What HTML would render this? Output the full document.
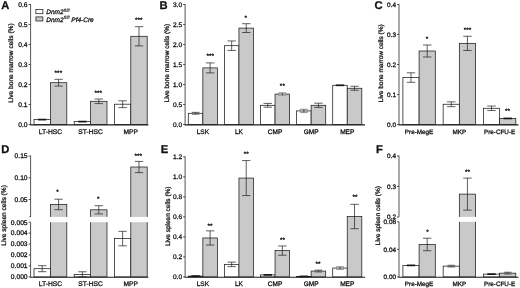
<!DOCTYPE html>
<html><head><meta charset="utf-8"><title>Figure</title>
<style>
html,body{margin:0;padding:0;background:#fff;}
body{width:520px;height:288px;overflow:hidden;}
svg{display:block;}
svg text{font-family:"Liberation Sans",Arial,Helvetica,sans-serif;fill:#111;stroke:#111;stroke-width:0.28px;text-rendering:geometricPrecision;}
</style></head><body>
<svg width="520" height="288" viewBox="0 0 520 288">
<rect width="520" height="288" fill="#fff"/>
<rect x="34.00" y="119.60" width="16.40" height="4.90" fill="#fff" stroke="#1c1c1c" stroke-width="0.75"/>
<rect x="50.40" y="82.70" width="16.40" height="41.80" fill="#c9c9c9" stroke="#1c1c1c" stroke-width="0.75"/>
<line x1="38.00" y1="119.60" x2="46.40" y2="119.60" stroke="#151515" stroke-width="1.7"/>
<line x1="58.60" y1="79.30" x2="58.60" y2="86.10" stroke="#1c1c1c" stroke-width="0.7"/>
<line x1="54.40" y1="79.30" x2="62.80" y2="79.30" stroke="#1c1c1c" stroke-width="0.7"/>
<line x1="54.40" y1="86.10" x2="62.80" y2="86.10" stroke="#1c1c1c" stroke-width="0.7"/>
<rect x="74.20" y="121.60" width="16.40" height="2.90" fill="#fff" stroke="#1c1c1c" stroke-width="0.75"/>
<rect x="90.60" y="101.30" width="16.40" height="23.20" fill="#c9c9c9" stroke="#1c1c1c" stroke-width="0.75"/>
<line x1="78.20" y1="121.60" x2="86.60" y2="121.60" stroke="#151515" stroke-width="1.7"/>
<line x1="98.80" y1="99.00" x2="98.80" y2="103.60" stroke="#1c1c1c" stroke-width="0.7"/>
<line x1="94.60" y1="99.00" x2="103.00" y2="99.00" stroke="#1c1c1c" stroke-width="0.7"/>
<line x1="94.60" y1="103.60" x2="103.00" y2="103.60" stroke="#1c1c1c" stroke-width="0.7"/>
<rect x="114.40" y="104.20" width="16.40" height="20.30" fill="#fff" stroke="#1c1c1c" stroke-width="0.75"/>
<rect x="130.80" y="36.30" width="16.40" height="88.20" fill="#c9c9c9" stroke="#1c1c1c" stroke-width="0.75"/>
<line x1="122.60" y1="100.80" x2="122.60" y2="107.60" stroke="#1c1c1c" stroke-width="0.7"/>
<line x1="118.40" y1="100.80" x2="126.80" y2="100.80" stroke="#1c1c1c" stroke-width="0.7"/>
<line x1="118.40" y1="107.60" x2="126.80" y2="107.60" stroke="#1c1c1c" stroke-width="0.7"/>
<line x1="139.00" y1="26.70" x2="139.00" y2="45.90" stroke="#1c1c1c" stroke-width="0.7"/>
<line x1="134.80" y1="26.70" x2="143.20" y2="26.70" stroke="#1c1c1c" stroke-width="0.7"/>
<line x1="134.80" y1="45.90" x2="143.20" y2="45.90" stroke="#1c1c1c" stroke-width="0.7"/>
<line x1="30.60" y1="4.12" x2="30.60" y2="124.88" stroke="#1c1c1c" stroke-width="0.75"/>
<line x1="28.60" y1="124.50" x2="30.60" y2="124.50" stroke="#1c1c1c" stroke-width="0.75"/>
<text x="27.60" y="126.85" font-size="6.7" text-anchor="end" >0.0</text>
<line x1="28.60" y1="104.50" x2="30.60" y2="104.50" stroke="#1c1c1c" stroke-width="0.75"/>
<text x="27.60" y="106.85" font-size="6.7" text-anchor="end" >0.1</text>
<line x1="28.60" y1="84.50" x2="30.60" y2="84.50" stroke="#1c1c1c" stroke-width="0.75"/>
<text x="27.60" y="86.85" font-size="6.7" text-anchor="end" >0.2</text>
<line x1="28.60" y1="64.50" x2="30.60" y2="64.50" stroke="#1c1c1c" stroke-width="0.75"/>
<text x="27.60" y="66.85" font-size="6.7" text-anchor="end" >0.3</text>
<line x1="28.60" y1="44.50" x2="30.60" y2="44.50" stroke="#1c1c1c" stroke-width="0.75"/>
<text x="27.60" y="46.85" font-size="6.7" text-anchor="end" >0.4</text>
<line x1="28.60" y1="24.50" x2="30.60" y2="24.50" stroke="#1c1c1c" stroke-width="0.75"/>
<text x="27.60" y="26.85" font-size="6.7" text-anchor="end" >0.5</text>
<line x1="28.60" y1="4.50" x2="30.60" y2="4.50" stroke="#1c1c1c" stroke-width="0.75"/>
<text x="27.60" y="6.85" font-size="6.7" text-anchor="end" >0.6</text>
<line x1="30.23" y1="124.90" x2="148.40" y2="124.90" stroke="#1c1c1c" stroke-width="1.1"/>
<text x="50.40" y="134.30" font-size="6.7" text-anchor="middle" >LT-HSC</text>
<text x="90.60" y="134.30" font-size="6.7" text-anchor="middle" >ST-HSC</text>
<text x="130.80" y="134.30" font-size="6.7" text-anchor="middle" >MPP</text>
<text transform="translate(13.20,63.10) rotate(-90)" font-size="6.6" text-anchor="middle">Live bone marrow cells (%)</text>
<text x="1.20" y="9.10" font-size="11.2" text-anchor="start" font-weight="bold">A</text>
<text x="58.40" y="75.00" font-size="6.5" text-anchor="middle" stroke-width="0.3">***</text>
<text x="98.30" y="94.50" font-size="6.5" text-anchor="middle" stroke-width="0.3">***</text>
<text x="138.80" y="22.20" font-size="6.5" text-anchor="middle" stroke-width="0.3">***</text>
<rect x="35.9" y="9.6" width="7.0" height="4.1" fill="#fff" stroke="#1c1c1c" stroke-width="0.75"/>
<rect x="35.9" y="16.9" width="7.0" height="4.1" fill="#c9c9c9" stroke="#1c1c1c" stroke-width="0.75"/>
<text x="46.3" y="14.4" font-size="6.5" font-style="italic">Dnm2<tspan font-size="4.6" stroke-width="0.12" dy="-2.4">fl/fl</tspan></text>
<text x="46.3" y="21.7" font-size="6.5" font-style="italic">Dnm2<tspan font-size="4.6" stroke-width="0.12" dy="-2.4">fl/fl</tspan><tspan dy="2.4"> Pf4-Cre</tspan></text>
<rect x="188.30" y="113.30" width="14.55" height="11.20" fill="#fff" stroke="#1c1c1c" stroke-width="0.75"/>
<rect x="202.85" y="67.90" width="14.55" height="56.60" fill="#c9c9c9" stroke="#1c1c1c" stroke-width="0.75"/>
<rect x="191.98" y="111.85" width="7.2" height="2.90" fill="#6e6e6e"/>
<line x1="195.58" y1="112.30" x2="195.58" y2="114.30" stroke="#444" stroke-width="0.9"/>
<line x1="191.98" y1="112.10" x2="191.98" y2="114.50" stroke="#777" stroke-width="0.5"/>
<line x1="199.18" y1="112.10" x2="199.18" y2="114.50" stroke="#777" stroke-width="0.5"/>
<line x1="210.12" y1="62.90" x2="210.12" y2="72.90" stroke="#1c1c1c" stroke-width="0.7"/>
<line x1="205.93" y1="62.90" x2="214.32" y2="62.90" stroke="#1c1c1c" stroke-width="0.7"/>
<line x1="205.93" y1="72.90" x2="214.32" y2="72.90" stroke="#1c1c1c" stroke-width="0.7"/>
<rect x="224.40" y="45.70" width="14.55" height="78.80" fill="#fff" stroke="#1c1c1c" stroke-width="0.75"/>
<rect x="238.95" y="28.10" width="14.55" height="96.40" fill="#c9c9c9" stroke="#1c1c1c" stroke-width="0.75"/>
<line x1="231.68" y1="40.95" x2="231.68" y2="50.45" stroke="#1c1c1c" stroke-width="0.7"/>
<line x1="227.48" y1="40.95" x2="235.88" y2="40.95" stroke="#1c1c1c" stroke-width="0.7"/>
<line x1="227.48" y1="50.45" x2="235.88" y2="50.45" stroke="#1c1c1c" stroke-width="0.7"/>
<line x1="246.23" y1="23.70" x2="246.23" y2="32.50" stroke="#1c1c1c" stroke-width="0.7"/>
<line x1="242.03" y1="23.70" x2="250.43" y2="23.70" stroke="#1c1c1c" stroke-width="0.7"/>
<line x1="242.03" y1="32.50" x2="250.43" y2="32.50" stroke="#1c1c1c" stroke-width="0.7"/>
<rect x="260.50" y="105.30" width="14.55" height="19.20" fill="#fff" stroke="#1c1c1c" stroke-width="0.75"/>
<rect x="275.05" y="94.10" width="14.55" height="30.40" fill="#c9c9c9" stroke="#1c1c1c" stroke-width="0.75"/>
<line x1="267.77" y1="103.40" x2="267.77" y2="107.20" stroke="#1c1c1c" stroke-width="0.7"/>
<line x1="263.57" y1="103.40" x2="271.97" y2="103.40" stroke="#1c1c1c" stroke-width="0.7"/>
<line x1="263.57" y1="107.20" x2="271.97" y2="107.20" stroke="#1c1c1c" stroke-width="0.7"/>
<rect x="278.73" y="92.25" width="7.2" height="3.70" fill="#a4a4a4"/>
<line x1="282.33" y1="92.70" x2="282.33" y2="95.50" stroke="#444" stroke-width="0.9"/>
<line x1="278.73" y1="92.50" x2="278.73" y2="95.70" stroke="#777" stroke-width="0.5"/>
<line x1="285.93" y1="92.50" x2="285.93" y2="95.70" stroke="#777" stroke-width="0.5"/>
<rect x="296.60" y="110.90" width="14.55" height="13.60" fill="#fff" stroke="#1c1c1c" stroke-width="0.75"/>
<rect x="311.15" y="105.30" width="14.55" height="19.20" fill="#c9c9c9" stroke="#1c1c1c" stroke-width="0.75"/>
<rect x="300.27" y="108.70" width="7.2" height="4.40" fill="#a4a4a4"/>
<line x1="303.88" y1="109.15" x2="303.88" y2="112.65" stroke="#444" stroke-width="0.9"/>
<line x1="300.27" y1="108.95" x2="300.27" y2="112.85" stroke="#777" stroke-width="0.5"/>
<line x1="307.48" y1="108.95" x2="307.48" y2="112.85" stroke="#777" stroke-width="0.5"/>
<line x1="318.43" y1="103.20" x2="318.43" y2="107.40" stroke="#1c1c1c" stroke-width="0.7"/>
<line x1="314.23" y1="103.20" x2="322.63" y2="103.20" stroke="#1c1c1c" stroke-width="0.7"/>
<line x1="314.23" y1="107.40" x2="322.63" y2="107.40" stroke="#1c1c1c" stroke-width="0.7"/>
<rect x="332.70" y="85.30" width="14.55" height="39.20" fill="#fff" stroke="#1c1c1c" stroke-width="0.75"/>
<rect x="347.25" y="88.26" width="14.55" height="36.24" fill="#c9c9c9" stroke="#1c1c1c" stroke-width="0.75"/>
<line x1="335.78" y1="85.30" x2="344.18" y2="85.30" stroke="#151515" stroke-width="1.7"/>
<line x1="354.53" y1="86.26" x2="354.53" y2="90.26" stroke="#1c1c1c" stroke-width="0.7"/>
<line x1="350.33" y1="86.26" x2="358.73" y2="86.26" stroke="#1c1c1c" stroke-width="0.7"/>
<line x1="350.33" y1="90.26" x2="358.73" y2="90.26" stroke="#1c1c1c" stroke-width="0.7"/>
<line x1="185.10" y1="4.12" x2="185.10" y2="124.88" stroke="#1c1c1c" stroke-width="0.75"/>
<line x1="183.10" y1="124.50" x2="185.10" y2="124.50" stroke="#1c1c1c" stroke-width="0.75"/>
<text x="182.10" y="126.85" font-size="6.6" text-anchor="end" >0.0</text>
<line x1="183.10" y1="104.50" x2="185.10" y2="104.50" stroke="#1c1c1c" stroke-width="0.75"/>
<text x="182.10" y="106.85" font-size="6.6" text-anchor="end" >0.5</text>
<line x1="183.10" y1="84.50" x2="185.10" y2="84.50" stroke="#1c1c1c" stroke-width="0.75"/>
<text x="182.10" y="86.85" font-size="6.6" text-anchor="end" >1.0</text>
<line x1="183.10" y1="64.50" x2="185.10" y2="64.50" stroke="#1c1c1c" stroke-width="0.75"/>
<text x="182.10" y="66.85" font-size="6.6" text-anchor="end" >1.5</text>
<line x1="183.10" y1="44.50" x2="185.10" y2="44.50" stroke="#1c1c1c" stroke-width="0.75"/>
<text x="182.10" y="46.85" font-size="6.6" text-anchor="end" >2.0</text>
<line x1="183.10" y1="24.50" x2="185.10" y2="24.50" stroke="#1c1c1c" stroke-width="0.75"/>
<text x="182.10" y="26.85" font-size="6.6" text-anchor="end" >2.5</text>
<line x1="183.10" y1="4.50" x2="185.10" y2="4.50" stroke="#1c1c1c" stroke-width="0.75"/>
<text x="182.10" y="6.85" font-size="6.6" text-anchor="end" >3.0</text>
<line x1="184.72" y1="124.90" x2="365.00" y2="124.90" stroke="#1c1c1c" stroke-width="1.1"/>
<text x="202.85" y="134.30" font-size="6.55" text-anchor="middle" >LSK</text>
<text x="238.95" y="134.30" font-size="6.55" text-anchor="middle" >LK</text>
<text x="275.05" y="134.30" font-size="6.55" text-anchor="middle" >CMP</text>
<text x="311.15" y="134.30" font-size="6.55" text-anchor="middle" >GMP</text>
<text x="347.25" y="134.30" font-size="6.55" text-anchor="middle" >MEP</text>
<text transform="translate(169.30,63.10) rotate(-90)" font-size="6.5" text-anchor="middle">Live bone marrow cells (%)</text>
<text x="159.60" y="9.10" font-size="11.2" text-anchor="start" font-weight="bold">B</text>
<text x="210.30" y="58.00" font-size="6.5" text-anchor="middle" stroke-width="0.3">***</text>
<text x="245.80" y="19.70" font-size="6.5" text-anchor="middle" stroke-width="0.3">*</text>
<text x="282.40" y="87.50" font-size="6.5" text-anchor="middle" stroke-width="0.3">**</text>
<rect x="402.90" y="77.55" width="16.20" height="46.95" fill="#fff" stroke="#1c1c1c" stroke-width="0.75"/>
<rect x="419.10" y="51.00" width="16.20" height="73.50" fill="#c9c9c9" stroke="#1c1c1c" stroke-width="0.75"/>
<line x1="411.00" y1="72.80" x2="411.00" y2="82.30" stroke="#1c1c1c" stroke-width="0.7"/>
<line x1="406.80" y1="72.80" x2="415.20" y2="72.80" stroke="#1c1c1c" stroke-width="0.7"/>
<line x1="406.80" y1="82.30" x2="415.20" y2="82.30" stroke="#1c1c1c" stroke-width="0.7"/>
<line x1="427.20" y1="45.00" x2="427.20" y2="57.00" stroke="#1c1c1c" stroke-width="0.7"/>
<line x1="423.00" y1="45.00" x2="431.40" y2="45.00" stroke="#1c1c1c" stroke-width="0.7"/>
<line x1="423.00" y1="57.00" x2="431.40" y2="57.00" stroke="#1c1c1c" stroke-width="0.7"/>
<rect x="443.15" y="104.25" width="16.20" height="20.25" fill="#fff" stroke="#1c1c1c" stroke-width="0.75"/>
<rect x="459.35" y="43.35" width="16.20" height="81.15" fill="#c9c9c9" stroke="#1c1c1c" stroke-width="0.75"/>
<line x1="451.25" y1="101.85" x2="451.25" y2="106.65" stroke="#1c1c1c" stroke-width="0.7"/>
<line x1="447.05" y1="101.85" x2="455.45" y2="101.85" stroke="#1c1c1c" stroke-width="0.7"/>
<line x1="447.05" y1="106.65" x2="455.45" y2="106.65" stroke="#1c1c1c" stroke-width="0.7"/>
<line x1="467.45" y1="36.25" x2="467.45" y2="50.45" stroke="#1c1c1c" stroke-width="0.7"/>
<line x1="463.25" y1="36.25" x2="471.65" y2="36.25" stroke="#1c1c1c" stroke-width="0.7"/>
<line x1="463.25" y1="50.45" x2="471.65" y2="50.45" stroke="#1c1c1c" stroke-width="0.7"/>
<rect x="483.40" y="108.30" width="16.20" height="16.20" fill="#fff" stroke="#1c1c1c" stroke-width="0.75"/>
<rect x="499.60" y="118.44" width="16.20" height="6.06" fill="#c9c9c9" stroke="#1c1c1c" stroke-width="0.75"/>
<line x1="491.50" y1="106.05" x2="491.50" y2="110.55" stroke="#1c1c1c" stroke-width="0.7"/>
<line x1="487.30" y1="106.05" x2="495.70" y2="106.05" stroke="#1c1c1c" stroke-width="0.7"/>
<line x1="487.30" y1="110.55" x2="495.70" y2="110.55" stroke="#1c1c1c" stroke-width="0.7"/>
<line x1="503.50" y1="118.44" x2="511.90" y2="118.44" stroke="#151515" stroke-width="1.7"/>
<line x1="399.00" y1="4.12" x2="399.00" y2="124.88" stroke="#1c1c1c" stroke-width="0.75"/>
<line x1="397.00" y1="124.50" x2="399.00" y2="124.50" stroke="#1c1c1c" stroke-width="0.75"/>
<text x="396.00" y="126.85" font-size="6.4" text-anchor="end" >0.0</text>
<line x1="397.00" y1="94.50" x2="399.00" y2="94.50" stroke="#1c1c1c" stroke-width="0.75"/>
<text x="396.00" y="96.85" font-size="6.4" text-anchor="end" >0.1</text>
<line x1="397.00" y1="64.50" x2="399.00" y2="64.50" stroke="#1c1c1c" stroke-width="0.75"/>
<text x="396.00" y="66.85" font-size="6.4" text-anchor="end" >0.2</text>
<line x1="397.00" y1="34.50" x2="399.00" y2="34.50" stroke="#1c1c1c" stroke-width="0.75"/>
<text x="396.00" y="36.85" font-size="6.4" text-anchor="end" >0.3</text>
<line x1="397.00" y1="4.50" x2="399.00" y2="4.50" stroke="#1c1c1c" stroke-width="0.75"/>
<text x="396.00" y="6.85" font-size="6.4" text-anchor="end" >0.4</text>
<line x1="398.62" y1="124.90" x2="518.50" y2="124.90" stroke="#1c1c1c" stroke-width="1.1"/>
<text x="419.10" y="134.30" font-size="6.33" text-anchor="middle" >Pre-MegE</text>
<text x="459.35" y="134.30" font-size="6.33" text-anchor="middle" >MKP</text>
<text x="499.60" y="134.30" font-size="6.33" text-anchor="middle" >Pre-CFU-E</text>
<text transform="translate(383.20,63.45) rotate(-90)" font-size="6.48" text-anchor="middle">Live bone marrow cells (%)</text>
<text x="374.50" y="9.10" font-size="11.2" text-anchor="start" font-weight="bold">C</text>
<text x="427.00" y="40.50" font-size="6.5" text-anchor="middle" stroke-width="0.3">*</text>
<text x="467.50" y="31.50" font-size="6.5" text-anchor="middle" stroke-width="0.3">***</text>
<text x="507.50" y="113.00" font-size="6.5" text-anchor="middle" stroke-width="0.3">**</text>
<rect x="34.00" y="268.69" width="16.40" height="8.21" fill="#fff" stroke="#1c1c1c" stroke-width="0.75"/>
<rect x="50.40" y="204.46" width="16.40" height="72.44" fill="#c9c9c9" stroke="#1c1c1c" stroke-width="0.75"/>
<rect x="49.40" y="216.90" width="18.40" height="5.30" fill="#fff"/>
<line x1="42.20" y1="265.69" x2="42.20" y2="271.69" stroke="#1c1c1c" stroke-width="0.7"/>
<line x1="38.00" y1="265.69" x2="46.40" y2="265.69" stroke="#1c1c1c" stroke-width="0.7"/>
<line x1="38.00" y1="271.69" x2="46.40" y2="271.69" stroke="#1c1c1c" stroke-width="0.7"/>
<line x1="58.60" y1="199.21" x2="58.60" y2="209.71" stroke="#1c1c1c" stroke-width="0.7"/>
<line x1="54.40" y1="199.21" x2="62.80" y2="199.21" stroke="#1c1c1c" stroke-width="0.7"/>
<line x1="54.40" y1="209.71" x2="62.80" y2="209.71" stroke="#1c1c1c" stroke-width="0.7"/>
<rect x="74.20" y="274.38" width="16.40" height="2.52" fill="#fff" stroke="#1c1c1c" stroke-width="0.75"/>
<rect x="90.60" y="209.81" width="16.40" height="67.09" fill="#c9c9c9" stroke="#1c1c1c" stroke-width="0.75"/>
<rect x="89.60" y="216.90" width="18.40" height="5.30" fill="#fff"/>
<line x1="82.40" y1="271.78" x2="82.40" y2="276.90" stroke="#1c1c1c" stroke-width="0.7"/>
<line x1="78.20" y1="271.78" x2="86.60" y2="271.78" stroke="#1c1c1c" stroke-width="0.7"/>
<line x1="78.20" y1="276.90" x2="86.60" y2="276.90" stroke="#1c1c1c" stroke-width="0.7"/>
<line x1="98.80" y1="205.71" x2="98.80" y2="213.91" stroke="#1c1c1c" stroke-width="0.7"/>
<line x1="94.60" y1="205.71" x2="103.00" y2="205.71" stroke="#1c1c1c" stroke-width="0.7"/>
<line x1="94.60" y1="213.91" x2="103.00" y2="213.91" stroke="#1c1c1c" stroke-width="0.7"/>
<rect x="114.40" y="238.57" width="16.40" height="38.32" fill="#fff" stroke="#1c1c1c" stroke-width="0.75"/>
<rect x="130.80" y="167.01" width="16.40" height="109.89" fill="#c9c9c9" stroke="#1c1c1c" stroke-width="0.75"/>
<rect x="129.80" y="216.90" width="18.40" height="5.30" fill="#fff"/>
<line x1="122.60" y1="231.32" x2="122.60" y2="245.82" stroke="#1c1c1c" stroke-width="0.7"/>
<line x1="118.40" y1="231.32" x2="126.80" y2="231.32" stroke="#1c1c1c" stroke-width="0.7"/>
<line x1="118.40" y1="245.82" x2="126.80" y2="245.82" stroke="#1c1c1c" stroke-width="0.7"/>
<line x1="139.00" y1="161.41" x2="139.00" y2="172.61" stroke="#1c1c1c" stroke-width="0.7"/>
<line x1="134.80" y1="161.41" x2="143.20" y2="161.41" stroke="#1c1c1c" stroke-width="0.7"/>
<line x1="134.80" y1="172.61" x2="143.20" y2="172.61" stroke="#1c1c1c" stroke-width="0.7"/>
<line x1="30.60" y1="155.62" x2="30.60" y2="216.90" stroke="#1c1c1c" stroke-width="0.75"/>
<line x1="30.60" y1="222.20" x2="30.60" y2="277.27" stroke="#1c1c1c" stroke-width="0.75"/>
<line x1="28.60" y1="156.00" x2="30.60" y2="156.00" stroke="#1c1c1c" stroke-width="0.75"/>
<text x="27.60" y="158.35" font-size="6.7" text-anchor="end" >0.15</text>
<line x1="28.60" y1="177.75" x2="30.60" y2="177.75" stroke="#1c1c1c" stroke-width="0.75"/>
<text x="27.60" y="180.10" font-size="6.7" text-anchor="end" >0.10</text>
<line x1="28.60" y1="199.50" x2="30.60" y2="199.50" stroke="#1c1c1c" stroke-width="0.75"/>
<text x="27.60" y="201.85" font-size="6.7" text-anchor="end" >0.05</text>
<line x1="29.40" y1="216.70" x2="30.60" y2="216.70" stroke="#1c1c1c" stroke-width="0.75"/>
<line x1="28.60" y1="276.90" x2="30.60" y2="276.90" stroke="#1c1c1c" stroke-width="0.75"/>
<text x="27.60" y="279.25" font-size="6.7" text-anchor="end" >0.000</text>
<line x1="28.60" y1="265.95" x2="30.60" y2="265.95" stroke="#1c1c1c" stroke-width="0.75"/>
<text x="27.60" y="268.30" font-size="6.7" text-anchor="end" >0.001</text>
<line x1="28.60" y1="255.00" x2="30.60" y2="255.00" stroke="#1c1c1c" stroke-width="0.75"/>
<text x="27.60" y="257.35" font-size="6.7" text-anchor="end" >0.002</text>
<line x1="28.60" y1="244.05" x2="30.60" y2="244.05" stroke="#1c1c1c" stroke-width="0.75"/>
<text x="27.60" y="246.40" font-size="6.7" text-anchor="end" >0.003</text>
<line x1="28.60" y1="233.10" x2="30.60" y2="233.10" stroke="#1c1c1c" stroke-width="0.75"/>
<text x="27.60" y="235.45" font-size="6.7" text-anchor="end" >0.004</text>
<line x1="28.60" y1="222.15" x2="30.60" y2="222.15" stroke="#1c1c1c" stroke-width="0.75"/>
<text x="27.60" y="224.50" font-size="6.7" text-anchor="end" >0.005</text>
<line x1="30.23" y1="277.30" x2="148.40" y2="277.30" stroke="#1c1c1c" stroke-width="1.1"/>
<text x="50.40" y="286.30" font-size="6.7" text-anchor="middle" >LT-HSC</text>
<text x="90.60" y="286.30" font-size="6.7" text-anchor="middle" >ST-HSC</text>
<text x="130.80" y="286.30" font-size="6.7" text-anchor="middle" >MPP</text>
<text transform="translate(6.30,215.40) rotate(-90)" font-size="6.6" text-anchor="middle">Live spleen cells (%)</text>
<text x="1.20" y="153.10" font-size="11.2" text-anchor="start" font-weight="bold">D</text>
<text x="57.50" y="194.20" font-size="6.5" text-anchor="middle" stroke-width="0.3">*</text>
<text x="98.30" y="201.20" font-size="6.5" text-anchor="middle" stroke-width="0.3">*</text>
<text x="138.30" y="157.50" font-size="6.5" text-anchor="middle" stroke-width="0.3">***</text>
<rect x="188.30" y="276.10" width="14.55" height="0.80" fill="#fff" stroke="#1c1c1c" stroke-width="0.75"/>
<rect x="202.85" y="237.97" width="14.55" height="38.93" fill="#c9c9c9" stroke="#1c1c1c" stroke-width="0.75"/>
<line x1="191.38" y1="276.10" x2="199.78" y2="276.10" stroke="#151515" stroke-width="1.7"/>
<line x1="210.12" y1="230.87" x2="210.12" y2="245.07" stroke="#1c1c1c" stroke-width="0.7"/>
<line x1="205.93" y1="230.87" x2="214.32" y2="230.87" stroke="#1c1c1c" stroke-width="0.7"/>
<line x1="205.93" y1="245.07" x2="214.32" y2="245.07" stroke="#1c1c1c" stroke-width="0.7"/>
<rect x="224.40" y="264.36" width="14.55" height="12.54" fill="#fff" stroke="#1c1c1c" stroke-width="0.75"/>
<rect x="238.95" y="178.07" width="14.55" height="98.83" fill="#c9c9c9" stroke="#1c1c1c" stroke-width="0.75"/>
<line x1="231.68" y1="262.11" x2="231.68" y2="266.61" stroke="#1c1c1c" stroke-width="0.7"/>
<line x1="227.48" y1="262.11" x2="235.88" y2="262.11" stroke="#1c1c1c" stroke-width="0.7"/>
<line x1="227.48" y1="266.61" x2="235.88" y2="266.61" stroke="#1c1c1c" stroke-width="0.7"/>
<line x1="246.23" y1="160.57" x2="246.23" y2="195.57" stroke="#1c1c1c" stroke-width="0.7"/>
<line x1="242.03" y1="160.57" x2="250.43" y2="160.57" stroke="#1c1c1c" stroke-width="0.7"/>
<line x1="242.03" y1="195.57" x2="250.43" y2="195.57" stroke="#1c1c1c" stroke-width="0.7"/>
<rect x="260.50" y="274.89" width="14.55" height="2.01" fill="#fff" stroke="#1c1c1c" stroke-width="0.75"/>
<rect x="275.05" y="250.61" width="14.55" height="26.29" fill="#c9c9c9" stroke="#1c1c1c" stroke-width="0.75"/>
<line x1="263.57" y1="274.89" x2="271.97" y2="274.89" stroke="#151515" stroke-width="1.7"/>
<line x1="282.33" y1="246.01" x2="282.33" y2="255.21" stroke="#1c1c1c" stroke-width="0.7"/>
<line x1="278.13" y1="246.01" x2="286.53" y2="246.01" stroke="#1c1c1c" stroke-width="0.7"/>
<line x1="278.13" y1="255.21" x2="286.53" y2="255.21" stroke="#1c1c1c" stroke-width="0.7"/>
<rect x="296.60" y="276.40" width="14.55" height="0.50" fill="#fff" stroke="#1c1c1c" stroke-width="0.75"/>
<rect x="311.15" y="271.08" width="14.55" height="5.82" fill="#c9c9c9" stroke="#1c1c1c" stroke-width="0.75"/>
<line x1="299.68" y1="276.40" x2="308.07" y2="276.40" stroke="#151515" stroke-width="1.7"/>
<rect x="314.83" y="269.63" width="7.2" height="2.90" fill="#6e6e6e"/>
<line x1="318.43" y1="270.08" x2="318.43" y2="272.08" stroke="#444" stroke-width="0.9"/>
<line x1="314.83" y1="269.88" x2="314.83" y2="272.28" stroke="#777" stroke-width="0.5"/>
<line x1="322.03" y1="269.88" x2="322.03" y2="272.28" stroke="#777" stroke-width="0.5"/>
<rect x="332.70" y="268.07" width="14.55" height="8.83" fill="#fff" stroke="#1c1c1c" stroke-width="0.75"/>
<rect x="347.25" y="216.50" width="14.55" height="60.40" fill="#c9c9c9" stroke="#1c1c1c" stroke-width="0.75"/>
<rect x="336.38" y="266.12" width="7.2" height="3.90" fill="#a4a4a4"/>
<line x1="339.98" y1="266.57" x2="339.98" y2="269.57" stroke="#444" stroke-width="0.9"/>
<line x1="336.38" y1="266.37" x2="336.38" y2="269.77" stroke="#777" stroke-width="0.5"/>
<line x1="343.58" y1="266.37" x2="343.58" y2="269.77" stroke="#777" stroke-width="0.5"/>
<line x1="354.53" y1="204.30" x2="354.53" y2="228.70" stroke="#1c1c1c" stroke-width="0.7"/>
<line x1="350.33" y1="204.30" x2="358.73" y2="204.30" stroke="#1c1c1c" stroke-width="0.7"/>
<line x1="350.33" y1="228.70" x2="358.73" y2="228.70" stroke="#1c1c1c" stroke-width="0.7"/>
<line x1="185.10" y1="156.38" x2="185.10" y2="277.27" stroke="#1c1c1c" stroke-width="0.75"/>
<line x1="183.10" y1="276.90" x2="185.10" y2="276.90" stroke="#1c1c1c" stroke-width="0.75"/>
<text x="182.10" y="279.25" font-size="6.6" text-anchor="end" >0.0</text>
<line x1="183.10" y1="256.90" x2="185.10" y2="256.90" stroke="#1c1c1c" stroke-width="0.75"/>
<text x="182.10" y="259.25" font-size="6.6" text-anchor="end" >0.2</text>
<line x1="183.10" y1="236.90" x2="185.10" y2="236.90" stroke="#1c1c1c" stroke-width="0.75"/>
<text x="182.10" y="239.25" font-size="6.6" text-anchor="end" >0.4</text>
<line x1="183.10" y1="216.90" x2="185.10" y2="216.90" stroke="#1c1c1c" stroke-width="0.75"/>
<text x="182.10" y="219.25" font-size="6.6" text-anchor="end" >0.6</text>
<line x1="183.10" y1="196.90" x2="185.10" y2="196.90" stroke="#1c1c1c" stroke-width="0.75"/>
<text x="182.10" y="199.25" font-size="6.6" text-anchor="end" >0.8</text>
<line x1="183.10" y1="176.90" x2="185.10" y2="176.90" stroke="#1c1c1c" stroke-width="0.75"/>
<text x="182.10" y="179.25" font-size="6.6" text-anchor="end" >1.0</text>
<line x1="183.10" y1="156.90" x2="185.10" y2="156.90" stroke="#1c1c1c" stroke-width="0.75"/>
<text x="182.10" y="159.25" font-size="6.6" text-anchor="end" >1.2</text>
<line x1="184.72" y1="277.30" x2="365.00" y2="277.30" stroke="#1c1c1c" stroke-width="1.1"/>
<text x="202.85" y="286.30" font-size="6.55" text-anchor="middle" >LSK</text>
<text x="238.95" y="286.30" font-size="6.55" text-anchor="middle" >LK</text>
<text x="275.05" y="286.30" font-size="6.55" text-anchor="middle" >CMP</text>
<text x="311.15" y="286.30" font-size="6.55" text-anchor="middle" >GMP</text>
<text x="347.25" y="286.30" font-size="6.55" text-anchor="middle" >MEP</text>
<text transform="translate(170.20,216.30) rotate(-90)" font-size="6.5" text-anchor="middle">Live spleen cells (%)</text>
<text x="160.80" y="153.10" font-size="11.2" text-anchor="start" font-weight="bold">E</text>
<text x="210.00" y="227.50" font-size="6.5" text-anchor="middle" stroke-width="0.3">**</text>
<text x="246.20" y="156.20" font-size="6.5" text-anchor="middle" stroke-width="0.3">**</text>
<text x="282.50" y="242.00" font-size="6.5" text-anchor="middle" stroke-width="0.3">**</text>
<text x="318.00" y="265.70" font-size="6.5" text-anchor="middle" stroke-width="0.3">**</text>
<text x="355.00" y="199.20" font-size="6.5" text-anchor="middle" stroke-width="0.3">**</text>
<rect x="402.90" y="265.38" width="16.20" height="11.52" fill="#fff" stroke="#1c1c1c" stroke-width="0.75"/>
<rect x="419.10" y="244.47" width="16.20" height="32.43" fill="#c9c9c9" stroke="#1c1c1c" stroke-width="0.75"/>
<line x1="427.20" y1="238.22" x2="427.20" y2="250.72" stroke="#1c1c1c" stroke-width="0.7"/>
<line x1="423.00" y1="238.22" x2="431.40" y2="238.22" stroke="#1c1c1c" stroke-width="0.7"/>
<line x1="423.00" y1="250.72" x2="431.40" y2="250.72" stroke="#1c1c1c" stroke-width="0.7"/>
<line x1="406.80" y1="265.38" x2="415.20" y2="265.38" stroke="#151515" stroke-width="1.7"/>
<rect x="443.15" y="266.14" width="16.20" height="10.76" fill="#fff" stroke="#1c1c1c" stroke-width="0.75"/>
<rect x="459.35" y="194.12" width="16.20" height="82.77" fill="#c9c9c9" stroke="#1c1c1c" stroke-width="0.75"/>
<rect x="458.35" y="216.90" width="18.20" height="4.90" fill="#fff"/>
<line x1="467.45" y1="178.12" x2="467.45" y2="210.12" stroke="#1c1c1c" stroke-width="0.7"/>
<line x1="463.25" y1="178.12" x2="471.65" y2="178.12" stroke="#1c1c1c" stroke-width="0.7"/>
<line x1="463.25" y1="210.12" x2="471.65" y2="210.12" stroke="#1c1c1c" stroke-width="0.7"/>
<rect x="447.65" y="264.79" width="7.2" height="2.70" fill="#6e6e6e"/>
<line x1="451.25" y1="265.24" x2="451.25" y2="267.04" stroke="#444" stroke-width="0.9"/>
<line x1="447.65" y1="265.04" x2="447.65" y2="267.24" stroke="#777" stroke-width="0.5"/>
<line x1="454.85" y1="265.04" x2="454.85" y2="267.24" stroke="#777" stroke-width="0.5"/>
<rect x="483.40" y="274.14" width="16.20" height="2.76" fill="#fff" stroke="#1c1c1c" stroke-width="0.75"/>
<rect x="499.60" y="273.17" width="16.20" height="3.73" fill="#c9c9c9" stroke="#1c1c1c" stroke-width="0.75"/>
<rect x="504.10" y="271.72" width="7.2" height="2.90" fill="#6e6e6e"/>
<line x1="507.70" y1="272.17" x2="507.70" y2="274.17" stroke="#444" stroke-width="0.9"/>
<line x1="504.10" y1="271.97" x2="504.10" y2="274.37" stroke="#777" stroke-width="0.5"/>
<line x1="511.30" y1="271.97" x2="511.30" y2="274.37" stroke="#777" stroke-width="0.5"/>
<line x1="487.30" y1="274.14" x2="495.70" y2="274.14" stroke="#151515" stroke-width="1.7"/>
<line x1="399.00" y1="155.62" x2="399.00" y2="216.90" stroke="#1c1c1c" stroke-width="0.75"/>
<line x1="399.00" y1="221.80" x2="399.00" y2="277.27" stroke="#1c1c1c" stroke-width="0.75"/>
<line x1="397.00" y1="156.00" x2="399.00" y2="156.00" stroke="#1c1c1c" stroke-width="0.75"/>
<text x="396.00" y="158.35" font-size="6.4" text-anchor="end" >0.4</text>
<line x1="397.00" y1="186.50" x2="399.00" y2="186.50" stroke="#1c1c1c" stroke-width="0.75"/>
<text x="396.00" y="188.85" font-size="6.4" text-anchor="end" >0.3</text>
<line x1="397.00" y1="217.00" x2="399.00" y2="217.00" stroke="#1c1c1c" stroke-width="0.75"/>
<text x="396.00" y="219.35" font-size="6.4" text-anchor="end" >0.2</text>
<line x1="397.00" y1="221.70" x2="399.00" y2="221.70" stroke="#1c1c1c" stroke-width="0.75"/>
<text x="396.00" y="224.05" font-size="6.4" text-anchor="end" >0.08</text>
<line x1="397.00" y1="249.30" x2="399.00" y2="249.30" stroke="#1c1c1c" stroke-width="0.75"/>
<text x="396.00" y="251.65" font-size="6.4" text-anchor="end" >0.04</text>
<line x1="397.00" y1="276.90" x2="399.00" y2="276.90" stroke="#1c1c1c" stroke-width="0.75"/>
<text x="396.00" y="279.25" font-size="6.4" text-anchor="end" >0.00</text>
<line x1="398.62" y1="277.30" x2="518.50" y2="277.30" stroke="#1c1c1c" stroke-width="1.1"/>
<text x="419.10" y="286.30" font-size="6.33" text-anchor="middle" >Pre-MegE</text>
<text x="459.35" y="286.30" font-size="6.33" text-anchor="middle" >MKP</text>
<text x="499.60" y="286.30" font-size="6.33" text-anchor="middle" >Pre-CFU-E</text>
<text transform="translate(380.40,215.80) rotate(-90)" font-size="6.48" text-anchor="middle">Live spleen cells (%)</text>
<text x="376.00" y="153.10" font-size="11.2" text-anchor="start" font-weight="bold">F</text>
<text x="427.50" y="233.70" font-size="6.5" text-anchor="middle" stroke-width="0.3">*</text>
<text x="467.50" y="173.70" font-size="6.5" text-anchor="middle" stroke-width="0.3">**</text>
</svg>
</body></html>
